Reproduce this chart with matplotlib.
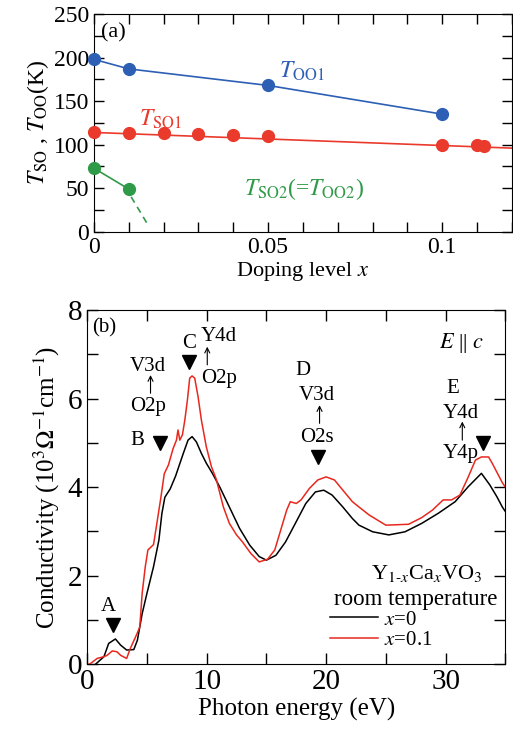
import matplotlib
matplotlib.use("Agg")
import matplotlib.pyplot as plt
from matplotlib.ticker import MultipleLocator

plt.rcParams['font.family'] = ['Liberation Serif', 'DejaVu Serif']
plt.rcParams['mathtext.fontset'] = 'stix'

# ---- panel (a) data ----
x_oo1 = [0, 0.01, 0.05, 0.1]
t_oo1 = [198, 187, 168, 135]
x_so1 = [0, 0.01, 0.02, 0.03, 0.04, 0.05, 0.1, 0.11, 0.112]
t_so1 = [115, 113, 113, 112, 111, 110, 100, 100, 99]
so1_line_x = [0, 0.12]
so1_line_y = [114, 96]
x_so2 = [0, 0.01]
t_so2 = [73, 49]
so2_dash_x = [0.0107, 0.0152]
so2_dash_y = [40, 10]

# ---- panel (b) data ----
e0 = [0.7, 1.4, 1.8, 2.36, 2.8, 3.3, 3.9, 4.2, 4.6, 5.0, 5.55, 6.0, 6.25,
      6.5, 6.95, 7.4, 8.03, 8.44, 8.78, 9.14, 9.56, 9.97, 10.5, 11.1, 11.9,
      12.75, 13.6, 14.4, 15.0, 15.8, 16.6, 17.5, 18.3, 19.1, 19.8, 20.5,
      21.4, 22.2, 22.75, 23.9, 25.25, 26.6, 28.0, 29.4, 30.8, 31.9, 33.0,
      33.7, 34.3, 34.75, 35.0]
s0 = [0.0, 0.17, 0.47, 0.57, 0.43, 0.32, 0.33, 0.54, 1.14, 1.6, 2.2, 2.8,
      3.4, 3.77, 3.96, 4.25, 4.75, 5.06, 5.14, 5.02, 4.76, 4.54, 4.3, 4.0,
      3.55, 3.07, 2.69, 2.43, 2.35, 2.46, 2.76, 3.22, 3.63, 3.89, 3.93, 3.82,
      3.55, 3.29, 3.14, 2.99, 2.92, 2.99, 3.18, 3.41, 3.67, 4.01, 4.31, 4.05,
      3.78, 3.55, 3.45]
e1 = [0.0, 0.0, 0.2, 0.83, 1.4, 1.67, 2.1, 2.5, 2.8, 3.3, 3.6, 4.17, 4.4,
      4.6, 4.86, 5.08, 5.55, 5.83, 6.17, 6.45, 6.8, 7.19, 7.47, 7.6, 7.75,
      7.97, 8.17, 8.39, 8.58, 8.78, 9.0, 9.28, 9.56, 9.97, 10.4, 10.8, 11.4,
      11.9, 12.5, 13.0, 13.7, 14.4, 15.1, 15.7, 16.2, 16.7, 17.0, 17.5, 17.9,
      18.6, 19.3, 20.0, 20.7, 21.4, 22.2, 22.75, 23.6, 25.0, 26.9, 28.0,
      28.9, 29.8, 30.5, 31.2, 31.9, 32.5, 33.0, 33.6, 33.9, 34.75, 35.0]
s1 = [0.85, 0.0, 0.0, 0.13, 0.17, 0.2, 0.3, 0.28, 0.2, 0.13, 0.35, 0.69,
      0.84, 1.6, 2.2, 2.58, 2.7, 3.18, 3.77, 4.3, 4.5, 4.87, 5.06, 5.29,
      5.06, 5.18, 5.51, 5.97, 6.46, 6.51, 6.46, 6.04, 5.51, 4.91, 4.46, 4.18,
      3.55, 3.18, 2.92, 2.76, 2.5, 2.31, 2.37, 2.58, 3.03, 3.48, 3.67, 3.63,
      3.71, 3.97, 4.16, 4.23, 4.16, 3.93, 3.67, 3.55, 3.37, 3.14, 3.16, 3.31,
      3.48, 3.71, 3.71, 3.82, 4.23, 4.61, 4.68, 4.68, 4.54, 4.1, 4.0]
tri_e = [2.2, 6.1, 8.55, 19.35, 33.1]
tri_s = [0.89, 4.99, 6.83, 4.69, 5.0]

blue = '#2d5fb5'
red = '#ea3a2c'
green = '#2f9a48'

fig = plt.figure(figsize=(5.13, 7.38), dpi=100)

# ---------------- panel (a) ----------------
ax = fig.add_axes([0.183, 0.686, 0.815, 0.295])
ax.plot(x_oo1, t_oo1, '-', color=blue, lw=1.2)
ax.plot(x_oo1, t_oo1, 'o', color=blue, ms=8.5, clip_on=False, zorder=5)
ax.plot(so1_line_x, so1_line_y, '-', color=red, lw=1.2)
ax.plot(x_so1, t_so1, 'o', color=red, ms=8.5, clip_on=False, zorder=5)
ax.plot(x_so2, t_so2, '-', color=green, lw=1.2)
ax.plot(so2_dash_x, so2_dash_y, '--', color=green, lw=1.2, dashes=(4, 3))
ax.plot(x_so2, t_so2, 'o', color=green, ms=8.5, clip_on=False, zorder=5)

ax.set_xlim(0, 0.12)
ax.set_ylim(0, 250)
ax.xaxis.set_major_locator(MultipleLocator(0.05))
ax.xaxis.set_minor_locator(MultipleLocator(0.01))
ax.yaxis.set_major_locator(MultipleLocator(50))
ax.yaxis.set_minor_locator(MultipleLocator(25))
ax.set_xticks([0, 0.05, 0.1])
ax.set_xticklabels(['0', '0.05', '0.1'])
ax.tick_params(which='both', direction='in', top=True, right=True,
               labelsize=17, width=1, length=7)
ax.set_xlabel('Doping level $x$', fontsize=16, labelpad=2)
ax.set_ylabel(r'$T_{\rm SO}$ , $T_{\rm OO}$(K)', fontsize=17, labelpad=2)
ax.text(0.002, 228, '(a)', fontsize=16, ha='left', va='center')
ax.text(0.053, 177, r'$T_{\rm OO1}$', color=blue, fontsize=17)
ax.text(0.013, 122, r'$T_{\rm SO1}$', color=red, fontsize=17)
ax.text(0.043, 42, r'$T_{\rm SO2}$(=$T_{\rm OO2}$)', color=green, fontsize=17)

# ---------------- panel (b) ----------------
bx = fig.add_axes([0.170, 0.100, 0.815, 0.480])
bx.plot(e0, s0, '-', color='black', lw=1.1, label='$x$=0')
bx.plot(e1, s1, '-', color='#e8281e', lw=1.1, label='$x$=0.1')
bx.plot(tri_e, tri_s, 'v', color='black', ms=10, ls='none')

bx.set_xlim(0, 35)
bx.set_ylim(0, 8)
bx.xaxis.set_major_locator(MultipleLocator(10))
bx.xaxis.set_minor_locator(MultipleLocator(5))
bx.yaxis.set_major_locator(MultipleLocator(2))
bx.yaxis.set_minor_locator(MultipleLocator(1))
bx.tick_params(which='both', direction='in', top=True, right=True,
               labelsize=21, width=1, length=8)
bx.set_xlabel('Photon energy (eV)', fontsize=18, labelpad=2)
bx.set_ylabel(r'Conductivity (10$^3\Omega^{-1}$cm$^{-1}$)', fontsize=18,
              labelpad=4)

fs = 15
arrow = dict(arrowstyle='->', lw=0.8, color='black', shrinkA=0, shrinkB=0,
             mutation_scale=9)
bx.text(0.4, 7.6, '(b)', fontsize=15, ha='left', va='center')
bx.text(33.2, 7.25, r'$E$ || $c$', fontsize=16, ha='right', va='center')
bx.text(1.8, 1.3, 'A', fontsize=fs, ha='center', va='center')
bx.text(4.2, 5.05, 'B', fontsize=fs, ha='center', va='center')
bx.text(8.55, 7.25, 'C', fontsize=fs, ha='center', va='center')
bx.text(11.0, 7.4, 'Y4d', fontsize=fs, ha='center', va='center')
bx.annotate('', xy=(10.05, 7.17), xytext=(10.05, 6.76), arrowprops=arrow)
bx.text(11.0, 6.45, 'O2p', fontsize=fs, ha='center', va='center')
bx.text(5.1, 6.72, 'V3d', fontsize=fs, ha='center', va='center')
bx.annotate('', xy=(5.3, 6.53), xytext=(5.3, 6.12), arrowprops=arrow)
bx.text(5.1, 5.82, 'O2p', fontsize=fs, ha='center', va='center')
bx.text(18.1, 6.63, 'D', fontsize=fs, ha='center', va='center')
bx.text(19.2, 6.07, 'V3d', fontsize=fs, ha='center', va='center')
bx.annotate('', xy=(19.45, 5.85), xytext=(19.45, 5.44), arrowprops=arrow)
bx.text(19.2, 5.13, 'O2s', fontsize=fs, ha='center', va='center')
bx.text(30.6, 6.23, 'E', fontsize=fs, ha='center', va='center')
bx.text(31.3, 5.66, 'Y4d', fontsize=fs, ha='center', va='center')
bx.annotate('', xy=(31.4, 5.48), xytext=(31.4, 5.06), arrowprops=arrow)
bx.text(31.3, 4.76, 'Y4p', fontsize=fs, ha='center', va='center')
bx.text(33.1, 2.05, r'Y$_{1\text{-}x}$Ca$_x$VO$_3$', fontsize=16,
        ha='right', va='center')
bx.text(34.3, 1.45, 'room temperature', fontsize=16.5, ha='right',
        va='center')
bx.legend(loc='upper left', bbox_to_anchor=(20.3, 1.22),
          bbox_transform=bx.transData, frameon=False, fontsize=15,
          handlelength=2.3, handletextpad=0.3, labelspacing=0.05,
          borderpad=0, borderaxespad=0)

fig.savefig('out.png', dpi=100)
